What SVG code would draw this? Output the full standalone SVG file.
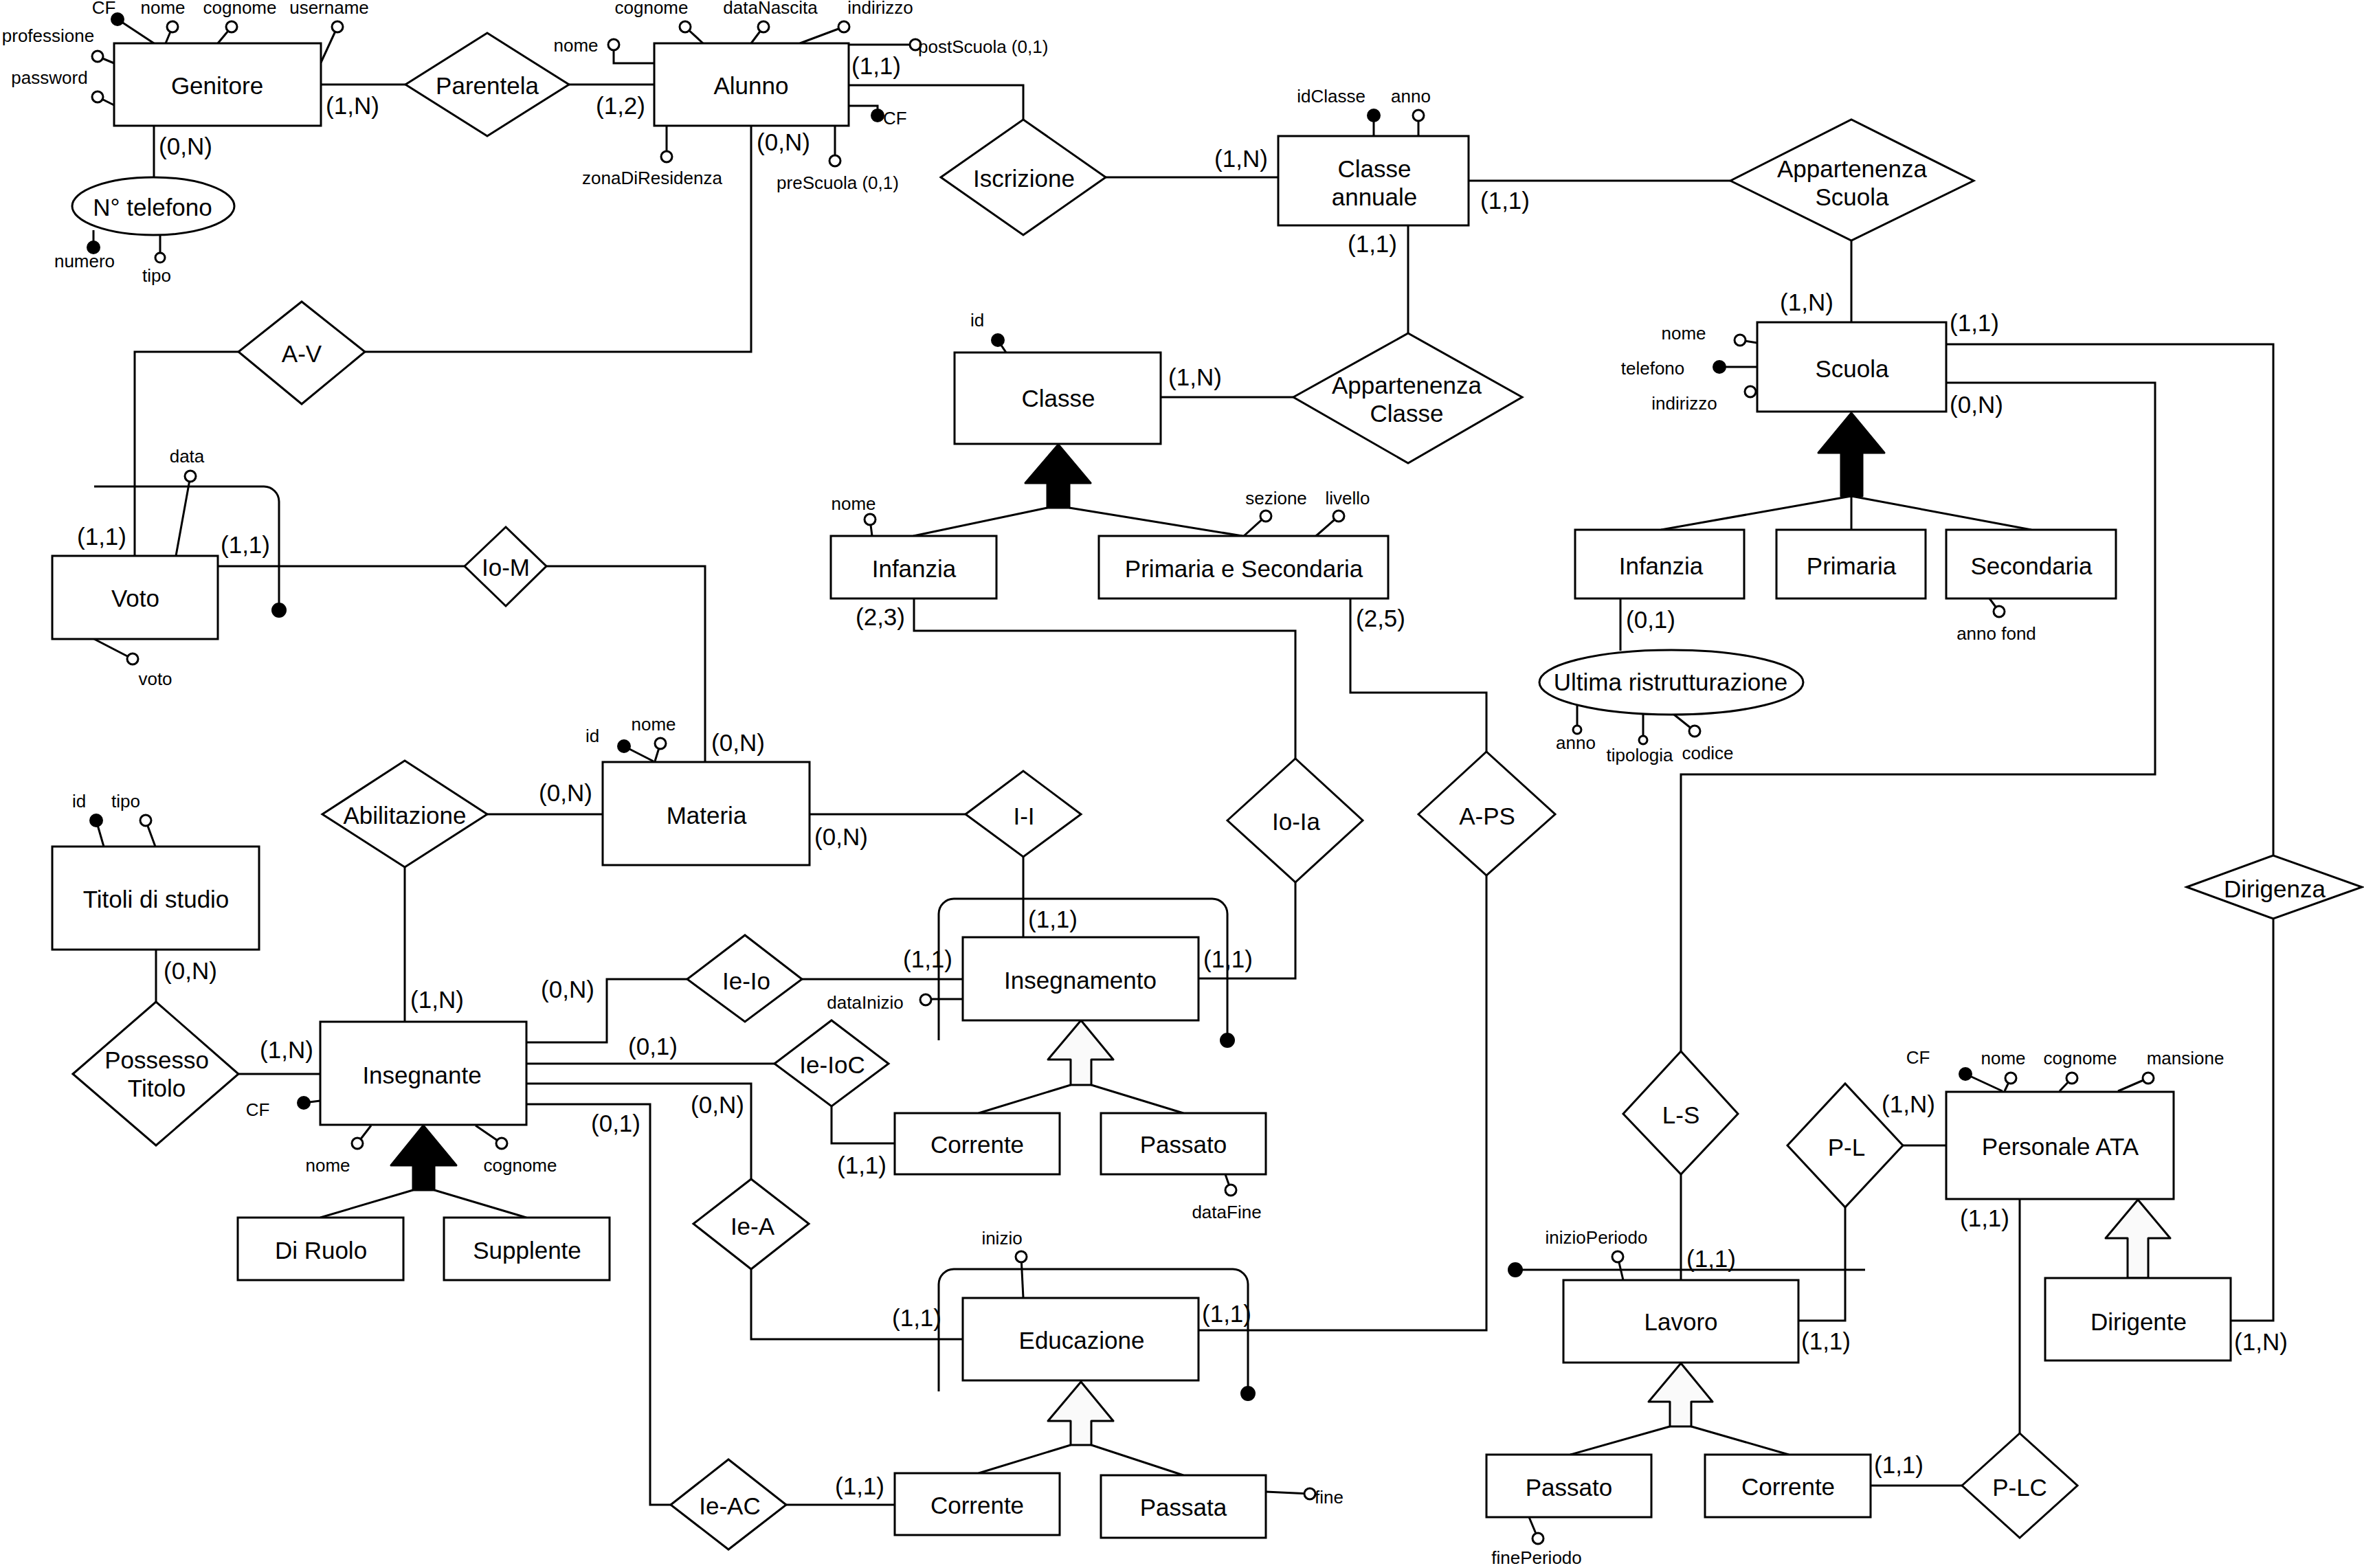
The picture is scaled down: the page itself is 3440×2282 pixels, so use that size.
<svg xmlns="http://www.w3.org/2000/svg" width="3440" height="2282" viewBox="0 0 3440 2282">
<style>
.e{fill:#fff;stroke:#000;stroke-width:3}
.l{fill:none;stroke:#000;stroke-width:3}
.s{stroke:#000;stroke-width:3}
.o{fill:#fff;stroke:#000;stroke-width:3}
.f{fill:#000;stroke:#000;stroke-width:2}
.ba{fill:#000;stroke:#000;stroke-width:3;stroke-linejoin:round}
.wa{fill:#fafafa;stroke:#000;stroke-width:3;stroke-linejoin:round}
text{font-family:"Liberation Sans",Arial,Helvetica,sans-serif;font-size:35px;text-anchor:middle;dominant-baseline:central;fill:#000}
text.a{font-size:26px}
text.st{text-anchor:start}
</style>
<rect width="3440" height="2282" fill="#fff"/>

<g id="connectors">
<path class="l" d="M467 123H590"/>
<path class="l" d="M828 123H952"/>
<path class="l" d="M224 183V258"/>
<path class="l" d="M1235 124H1489V174"/>
<path class="l" d="M1609 258H1860"/>
<path class="l" d="M2137 263H2518"/>
<path class="l" d="M2694 350V469"/>
<path class="l" d="M2049 328V485"/>
<path class="l" d="M1689 578H1882"/>
<path class="l" d="M347 512H196V809"/>
<path class="l" d="M531 512H1093V183"/>
<path class="l" d="M317 824H676"/>
<path class="l" d="M795 824H1026V1109"/>
<path class="l" d="M709 1185H877"/>
<path class="l" d="M589 1262V1487"/>
<path class="l" d="M1178 1185H1405"/>
<path class="l" d="M1489 1247V1364"/>
<path class="l" d="M1167 1425H1401"/>
<path class="l" d="M1000 1425H883V1517H766"/>
<path class="l" d="M1330 871V918H1885V1104"/>
<path class="l" d="M1885 1284V1424H1744"/>
<path class="l" d="M1965 871V1008H2163V1094"/>
<path class="l" d="M2163 1274V1936H1744"/>
<path class="l" d="M766 1548H1127"/>
<path class="l" d="M1210 1610V1664H1302"/>
<path class="l" d="M766 1577H1093V1716"/>
<path class="l" d="M1093 1847V1949H1401"/>
<path class="l" d="M766 1607H946V2190H976"/>
<path class="l" d="M1144 2190H1302"/>
<path class="l" d="M227 1382V1458"/>
<path class="l" d="M347 1563H466"/>
<path class="l" d="M2832 501H3308V1245"/>
<path class="l" d="M3308 1337V1922H3246"/>
<path class="l" d="M2832 557H3136V1127H2446V1530"/>
<path class="l" d="M2446 1709V1863"/>
<path class="l" d="M2769 1667H2832"/>
<path class="l" d="M2685 1757V1922H2617"/>
<path class="l" d="M2722 2162H2855"/>
<path class="l" d="M2939 2086V1745"/>
<path class="l" d="M2358 871V947"/>
<!-- generalization lines -->
<path class="l" d="M1524 739L1329 780M1556 739L1808 780"/>
<path class="l" d="M2694 722L2417 771M2694 722V771M2694 722L2956 771"/>
<path class="l" d="M601 1732L466 1772M632 1732L766 1772"/>
<path class="l" d="M1558 1579L1424 1620M1588 1579L1722 1620"/>
<path class="l" d="M1558 2103L1424 2144M1588 2103L1722 2147"/>
<path class="l" d="M2430 2076L2285 2117M2461 2076L2603 2117"/>
<!-- external identifier lines -->
<path class="l" d="M137 708H384A22 22 0 0 1 406 730V888"/>
<circle class="f" cx="406" cy="888" r="10"/>
<path class="l" d="M1366 1514V1330A22 22 0 0 1 1388 1308H1764A22 22 0 0 1 1786 1330V1514"/>
<circle class="f" cx="1786" cy="1514" r="10"/>
<path class="l" d="M1366 2025V1869A22 22 0 0 1 1388 1847H1794A22 22 0 0 1 1816 1869V2028"/>
<circle class="f" cx="1816" cy="2028" r="10"/>
<path class="l" d="M2205 1848H2714"/>
<circle class="f" cx="2205" cy="1848" r="10"/>
<!-- arrows -->
<polygon class="ba" points="1540,647 1587,703 1556,703 1556,739 1524,739 1524,703 1492,703"/>
<polygon class="ba" points="2694,601 2742,659 2710,659 2710,722 2679,722 2679,659 2646,659"/>
<polygon class="ba" points="616,1638 664,1696 632,1696 632,1732 601,1732 601,1696 569,1696"/>
<polygon class="wa" points="1573,1485 1620,1542 1588,1542 1588,1579 1558,1579 1558,1542 1525,1542"/>
<polygon class="wa" points="1573,2011 1620,2068 1588,2068 1588,2103 1558,2103 1558,2068 1525,2068"/>
<polygon class="wa" points="2446,1984 2492,2040 2461,2040 2461,2076 2430,2076 2430,2040 2399,2040"/>
<polygon class="wa" points="3111,1746 3158,1802 3126,1802 3126,1860 3096,1860 3096,1802 3064,1802"/>
<!-- cardinalities -->
<text x="513" y="153">(1,N)</text>
<text x="270" y="212">(0,N)</text>
<text x="903" y="153">(1,2)</text>
<text x="1275" y="95">(1,1)</text>
<text x="1140" y="206">(0,N)</text>
<text x="1806" y="230">(1,N)</text>
<text x="2190" y="291">(1,1)</text>
<text x="1997" y="354">(1,1)</text>
<text x="2629" y="439">(1,N)</text>
<text x="2873" y="469">(1,1)</text>
<text x="2876" y="588">(0,N)</text>
<text x="1739" y="548">(1,N)</text>
<text x="1281" y="897">(2,3)</text>
<text x="2009" y="899">(2,5)</text>
<text x="2402" y="901">(0,1)</text>
<text x="148" y="780">(1,1)</text>
<text x="357" y="792">(1,1)</text>
<text x="1074" y="1080">(0,N)</text>
<text x="823" y="1153">(0,N)</text>
<text x="1224" y="1217">(0,N)</text>
<text x="636" y="1454">(1,N)</text>
<text x="1532" y="1337">(1,1)</text>
<text x="1350" y="1395">(1,1)</text>
<text x="1787" y="1395">(1,1)</text>
<text x="826" y="1439">(0,N)</text>
<text x="950" y="1522">(0,1)</text>
<text x="1044" y="1607">(0,N)</text>
<text x="896" y="1634">(0,1)</text>
<text x="1254" y="1695">(1,1)</text>
<text x="1334" y="1917">(1,1)</text>
<text x="1785" y="1911">(1,1)</text>
<text x="1251" y="2162">(1,1)</text>
<text x="277" y="1412">(0,N)</text>
<text x="417" y="1527">(1,N)</text>
<text x="2490" y="1831">(1,1)</text>
<text x="2777" y="1606">(1,N)</text>
<text x="2657" y="1951">(1,1)</text>
<text x="2763" y="2131">(1,1)</text>
<text x="2888" y="1772">(1,1)</text>
<text x="3290" y="1952">(1,N)</text>
</g>

<g id="Genitore">
<path class="s" d="M224 63L171 28M241 63L251 39M317 63L337 39M467 91L491 39M166 92L142 82M166 153L142 141"/>
<rect class="e" x="166" y="63" width="301" height="120"/>
<circle class="f" cx="171" cy="28" r="9"/>
<circle class="o" cx="251" cy="39" r="8"/>
<circle class="o" cx="337" cy="39" r="8"/>
<circle class="o" cx="491" cy="39" r="8"/>
<circle class="o" cx="142" cy="82" r="8"/>
<circle class="o" cx="142" cy="141" r="8"/>
<text x="316" y="124">Genitore</text>
<text class="a" x="151" y="11">CF</text>
<text class="a" x="237" y="11">nome</text>
<text class="a" x="349" y="11">cognome</text>
<text class="a" x="479" y="11">username</text>
<text class="a" x="70" y="52">professione</text>
<text class="a" x="72" y="113">password</text>
</g>

<g id="NTelefono">
<path class="s" d="M136 335V360M233 340V375"/>
<ellipse class="e" cx="223" cy="300" rx="118" ry="42"/>
<circle class="f" cx="136" cy="360" r="9"/>
<circle class="o" cx="233" cy="375" r="7"/>
<text x="222" y="301">N° telefono</text>
<text class="a" x="123" y="380">numero</text>
<text class="a" x="228" y="401">tipo</text>
</g>

<g id="Parentela">
<polygon class="e" points="590,123 709,48 828,123 709,198"/>
<text x="709" y="124">Parentela</text>
</g>

<g id="Alunno">
<path class="l" d="M952 92H893V65"/>
<path class="s" d="M1023 63L997 39M1093 63L1111 39M1164 63L1228 39M1235 65H1332M970 183V228M1215 183V234"/>
<path class="l" d="M1235 154H1277V168"/>
<rect class="e" x="952" y="63" width="283" height="120"/>
<circle class="o" cx="893" cy="65" r="8"/>
<circle class="o" cx="997" cy="39" r="8"/>
<circle class="o" cx="1111" cy="39" r="8"/>
<circle class="o" cx="1228" cy="39" r="8"/>
<circle class="o" cx="1332" cy="65" r="8"/>
<circle class="f" cx="1277" cy="168" r="9"/>
<circle class="o" cx="970" cy="228" r="8"/>
<circle class="o" cx="1215" cy="234" r="8"/>
<text x="1093" y="124">Alunno</text>
<text class="a" x="838" y="66">nome</text>
<text class="a" x="948" y="11">cognome</text>
<text class="a" x="1121" y="11">dataNascita</text>
<text class="a" x="1281" y="11">indirizzo</text>
<text class="a st" x="1336" y="68">postScuola (0,1)</text>
<text class="a st" x="1285" y="172">CF</text>
<text class="a" x="949" y="259">zonaDiResidenza</text>
<text class="a" x="1219" y="266">preScuola (0,1)</text>
</g>

<g id="Iscrizione">
<polygon class="e" points="1369,258 1489,174 1609,258 1489,342"/>
<text x="1490" y="259">Iscrizione</text>
</g>

<g id="ClasseAnnuale">
<path class="s" d="M1999 198V168M2064 198V168"/>
<rect class="e" x="1860" y="198" width="277" height="130"/>
<circle class="f" cx="1999" cy="168" r="9"/>
<circle class="o" cx="2064" cy="168" r="8"/>
<text x="2000" y="245">Classe</text>
<text x="2000" y="286">annuale</text>
<text class="a" x="1937" y="140">idClasse</text>
<text class="a" x="2053" y="140">anno</text>
</g>

<g id="AppartenenzaScuola">
<polygon class="e" points="2518,263 2694,174 2872,263 2694,350"/>
<text x="2695" y="245">Appartenenza</text>
<text x="2695" y="286">Scuola</text>
</g>

<g id="AppartenenzaClasse">
<polygon class="e" points="1882,578 2049,485 2215,578 2049,674"/>
<text x="2047" y="560">Appartenenza</text>
<text x="2047" y="601">Classe</text>
</g>

<g id="Classe">
<path class="s" d="M1464 513L1452 495"/>
<rect class="e" x="1389" y="513" width="300" height="133"/>
<circle class="f" cx="1452" cy="495" r="9"/>
<text x="1540" y="579">Classe</text>
<text class="a" x="1422" y="466">id</text>
</g>

<g id="InfanziaClasse">
<path class="s" d="M1269 780L1266 756"/>
<rect class="e" x="1209" y="780" width="241" height="91"/>
<circle class="o" cx="1266" cy="756" r="8"/>
<text x="1330" y="827">Infanzia</text>
<text class="a" x="1242" y="733">nome</text>
</g>

<g id="PrimariaSecondaria">
<path class="s" d="M1810 780L1842 751M1915 780L1948 751"/>
<rect class="e" x="1599" y="780" width="421" height="91"/>
<circle class="o" cx="1842" cy="751" r="8"/>
<circle class="o" cx="1948" cy="751" r="8"/>
<text x="1810" y="827">Primaria e Secondaria</text>
<text class="a" x="1857" y="725">sezione</text>
<text class="a" x="1961" y="725">livello</text>
</g>

<g id="Scuola">
<path class="s" d="M2557 499L2532 495M2557 534H2502M2557 568L2547 570"/>
<rect class="e" x="2557" y="469" width="275" height="130"/>
<circle class="o" cx="2532" cy="495" r="8"/>
<circle class="f" cx="2502" cy="534" r="9"/>
<circle class="o" cx="2547" cy="570" r="8"/>
<text x="2695" y="536">Scuola</text>
<text class="a" x="2450" y="485">nome</text>
<text class="a" x="2405" y="536">telefono</text>
<text class="a" x="2451" y="587">indirizzo</text>
</g>

<g id="InfanziaScuola">
<rect class="e" x="2292" y="771" width="246" height="100"/>
<text x="2417" y="823">Infanzia</text>
</g>
<g id="PrimariaScuola">
<rect class="e" x="2585" y="771" width="217" height="100"/>
<text x="2694" y="823">Primaria</text>
</g>
<g id="SecondariaScuola">
<path class="s" d="M2895 871L2909 890"/>
<rect class="e" x="2832" y="771" width="247" height="100"/>
<circle class="o" cx="2909" cy="890" r="8"/>
<text x="2956" y="823">Secondaria</text>
<text class="a" x="2905" y="922">anno fond</text>
</g>

<g id="UltimaRistrutturazione">
<path class="s" d="M2295 1024V1062M2391 1040V1077M2436 1040L2466 1064"/>
<ellipse class="e" cx="2432" cy="993" rx="192" ry="47"/>
<circle class="o" cx="2295" cy="1062" r="6"/>
<circle class="o" cx="2391" cy="1077" r="6"/>
<circle class="o" cx="2466" cy="1064" r="8"/>
<text x="2431" y="992">Ultima ristrutturazione</text>
<text class="a" x="2293" y="1081">anno</text>
<text class="a" x="2386" y="1099">tipologia</text>
<text class="a" x="2485" y="1096">codice</text>
</g>

<g id="AV">
<polygon class="e" points="347,512 439,439 531,512 439,588"/>
<text x="439" y="514">A-V</text>
</g>

<g id="Voto">
<path class="s" d="M256 809L277 693M137 930L193 959"/>
<rect class="e" x="76" y="809" width="241" height="121"/>
<circle class="o" cx="277" cy="693" r="8"/>
<circle class="o" cx="193" cy="959" r="8"/>
<text x="197" y="870">Voto</text>
<text class="a" x="272" y="664">data</text>
<text class="a" x="226" y="988">voto</text>
</g>

<g id="IoM">
<polygon class="e" points="676,824 736,767 795,824 736,882"/>
<text x="736" y="825">Io-M</text>
</g>

<g id="Materia">
<path class="s" d="M951 1108L908 1086M953 1108L961 1082"/>
<rect class="e" x="877" y="1109" width="301" height="150"/>
<circle class="f" cx="908" cy="1086" r="9"/>
<circle class="o" cx="961" cy="1082" r="8"/>
<text x="1028" y="1186">Materia</text>
<text class="a" x="862" y="1071">id</text>
<text class="a" x="951" y="1054">nome</text>
</g>

<g id="TitoliDiStudio">
<path class="s" d="M151 1232L140 1194M226 1232L212 1194"/>
<rect class="e" x="76" y="1232" width="301" height="150"/>
<circle class="f" cx="140" cy="1194" r="9"/>
<circle class="o" cx="212" cy="1194" r="8"/>
<text x="227" y="1308">Titoli di studio</text>
<text class="a" x="115" y="1166">id</text>
<text class="a" x="183" y="1166">tipo</text>
</g>

<g id="Abilitazione">
<polygon class="e" points="469,1185 589,1107 709,1185 589,1262"/>
<text x="589" y="1186">Abilitazione</text>
</g>

<g id="II">
<polygon class="e" points="1405,1185 1489,1122 1573,1185 1489,1247"/>
<text x="1490" y="1187">I-I</text>
</g>

<g id="IoIa">
<polygon class="e" points="1786,1194 1885,1104 1983,1194 1885,1284"/>
<text x="1886" y="1195">Io-Ia</text>
</g>

<g id="APS">
<polygon class="e" points="2064,1185 2163,1094 2263,1185 2163,1274"/>
<text x="2164" y="1187">A-PS</text>
</g>

<g id="Insegnamento">
<path class="s" d="M1401 1454H1347"/>
<rect class="e" x="1401" y="1364" width="343" height="121"/>
<circle class="o" cx="1347" cy="1455" r="8"/>
<text x="1572" y="1426">Insegnamento</text>
<text class="a" x="1259" y="1459">dataInizio</text>
</g>

<g id="IeIo">
<polygon class="e" points="1000,1425 1084,1361 1167,1425 1084,1487"/>
<text x="1086" y="1427">Ie-Io</text>
</g>

<g id="IeIoC">
<polygon class="e" points="1127,1548 1210,1485 1293,1548 1210,1610"/>
<text x="1211" y="1549">Ie-IoC</text>
</g>

<g id="CorrenteInsegnamento">
<rect class="e" x="1302" y="1620" width="240" height="89"/>
<text x="1422" y="1665">Corrente</text>
</g>

<g id="PassatoInsegnamento">
<path class="s" d="M1783 1709L1791 1732"/>
<rect class="e" x="1602" y="1620" width="240" height="89"/>
<circle class="o" cx="1791" cy="1732" r="8"/>
<text x="1722" y="1665">Passato</text>
<text class="a" x="1785" y="1764">dataFine</text>
</g>

<g id="Insegnante">
<path class="s" d="M466 1602L442 1605M540 1638L520 1664M692 1638L730 1664"/>
<rect class="e" x="466" y="1487" width="300" height="150"/>
<circle class="f" cx="442" cy="1605" r="9"/>
<circle class="o" cx="520" cy="1664" r="8"/>
<circle class="o" cx="730" cy="1664" r="8"/>
<text x="614" y="1564">Insegnante</text>
<text class="a" x="375" y="1615">CF</text>
<text class="a" x="477" y="1696">nome</text>
<text class="a" x="757" y="1696">cognome</text>
</g>

<g id="PossessoTitolo">
<polygon class="e" points="106,1563 227,1458 347,1563 227,1667"/>
<text x="228" y="1542">Possesso</text>
<text x="228" y="1583">Titolo</text>
</g>

<g id="DiRuolo">
<rect class="e" x="346" y="1772" width="241" height="91"/>
<text x="467" y="1819">Di Ruolo</text>
</g>
<g id="Supplente">
<rect class="e" x="646" y="1772" width="241" height="91"/>
<text x="767" y="1819">Supplente</text>
</g>

<g id="IeA">
<polygon class="e" points="1009,1781 1093,1716 1177,1781 1093,1847"/>
<text x="1095" y="1784">Ie-A</text>
</g>

<g id="Educazione">
<path class="s" d="M1489 1889L1486 1829"/>
<rect class="e" x="1401" y="1889" width="343" height="120"/>
<circle class="o" cx="1486" cy="1829" r="8"/>
<text x="1574" y="1950">Educazione</text>
<text class="a" x="1458" y="1802">inizio</text>
</g>

<g id="IeAC">
<polygon class="e" points="976,2190 1060,2124 1144,2190 1060,2255"/>
<text x="1062" y="2191">Ie-AC</text>
</g>

<g id="CorrenteEducazione">
<rect class="e" x="1302" y="2144" width="240" height="90"/>
<text x="1422" y="2190">Corrente</text>
</g>
<g id="PassataEducazione">
<path class="s" d="M1842 2171L1906 2174"/>
<rect class="e" x="1602" y="2147" width="240" height="91"/>
<circle class="o" cx="1906" cy="2174" r="8"/>
<text x="1722" y="2193">Passata</text>
<text class="a" x="1934" y="2179">fine</text>
</g>

<g id="LS">
<polygon class="e" points="2362,1621 2446,1530 2529,1621 2446,1709"/>
<text x="2446" y="1622">L-S</text>
</g>

<g id="Lavoro">
<path class="s" d="M2362 1863L2354 1829"/>
<rect class="e" x="2275" y="1863" width="342" height="120"/>
<circle class="o" cx="2354" cy="1829" r="8"/>
<text x="2446" y="1923">Lavoro</text>
<text class="a" x="2323" y="1801">inizioPeriodo</text>
</g>

<g id="PassatoLavoro">
<path class="s" d="M2225 2208L2238 2239"/>
<rect class="e" x="2163" y="2117" width="240" height="91"/>
<circle class="o" cx="2238" cy="2239" r="8"/>
<text x="2283" y="2164">Passato</text>
<text class="a" x="2236" y="2267">finePeriodo</text>
</g>

<g id="CorrenteLavoro">
<rect class="e" x="2481" y="2117" width="241" height="91"/>
<text x="2602" y="2163">Corrente</text>
</g>

<g id="PL">
<polygon class="e" points="2601,1667 2685,1577 2769,1667 2685,1757"/>
<text x="2687" y="1669">P-L</text>
</g>

<g id="PLC">
<polygon class="e" points="2855,2162 2939,2086 3023,2162 2939,2238"/>
<text x="2939" y="2164">P-LC</text>
</g>

<g id="PersonaleATA">
<path class="s" d="M2914 1588L2860 1563M2917 1588L2926 1569M2997 1588L3015 1569M3082 1588L3126 1569"/>
<rect class="e" x="2832" y="1589" width="331" height="156"/>
<circle class="f" cx="2860" cy="1563" r="9"/>
<circle class="o" cx="2926" cy="1569" r="8"/>
<circle class="o" cx="3015" cy="1569" r="8"/>
<circle class="o" cx="3126" cy="1569" r="8"/>
<text x="2998" y="1668">Personale ATA</text>
<text class="a" x="2791" y="1539">CF</text>
<text class="a" x="2915" y="1540">nome</text>
<text class="a" x="3027" y="1540">cognome</text>
<text class="a" x="3180" y="1540">mansione</text>
</g>

<g id="Dirigente">
<rect class="e" x="2976" y="1860" width="270" height="120"/>
<text x="3112" y="1923">Dirigente</text>
</g>

<g id="Dirigenza">
<polygon class="e" points="3182,1291 3308,1245 3437,1291 3308,1337"/>
<text x="3310" y="1293">Dirigenza</text>
</g>
</svg>
